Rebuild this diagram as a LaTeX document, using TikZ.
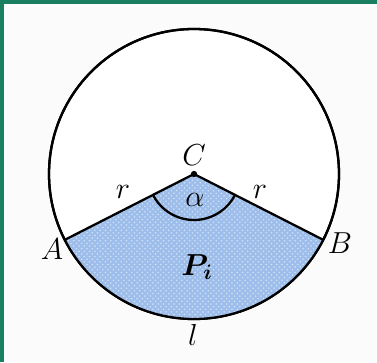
\documentclass[tikz,border=0pt]{standalone}
\usepackage{bm}
\usetikzlibrary{patterns}
\definecolor{framegreen}{HTML}{1A7F60}
\definecolor{sectorblue}{HTML}{9DBDEA}
\definecolor{paper}{HTML}{FBFBFB}
\begin{document}
\begin{tikzpicture}[line width=1.3pt, font=\fontsize{18}{20}\selectfont]
            \fill[paper] (0,0) rectangle (7.54,7.24);
            \fill[framegreen] (0,0) rectangle (0.08,7.24);
            \fill[framegreen] (0,7.16) rectangle (7.54,7.24);
            \useasboundingbox (0,0) rectangle (7.54,7.24);
            \coordinate (C) at (3.88,3.76);
            \path (C) ++(207:2.9) coordinate (A);
            \path (C) ++(333:2.9) coordinate (B);
            \draw[fill=white] (C) circle (2.9);
            % sector
            \fill[sectorblue] (C) -- (A) arc (207:333:2.9) -- cycle;
            \fill[pattern=crosshatch dots, pattern color=white!55!sectorblue] (C) -- (A) arc (207:333:2.9) -- cycle;
            \draw (C) circle (2.9);
            \draw (A) -- (C) -- (B);
            \draw (C) ++(207:0.92) arc (207:333:0.92);
            \fill (C) circle (1.8pt) node[above=1pt] (lblC) {$C$};
            \node (lblA) at (1.04,2.26) {$A$};
            \node (lblB) at (6.80,2.38) {$B$};
            \node (lblrA) at (2.46,3.40) {$r$};
            \node (lblrB) at (5.20,3.40) {$r$};
            \node (lblalpha) at (3.90,3.24) {$\alpha$};
            \node (lblP) at (3.94,1.90) {$\bm{P_i}$};
            \node (lbll) at (3.86,0.54) {$l$};
        \end{tikzpicture}
\end{document}
